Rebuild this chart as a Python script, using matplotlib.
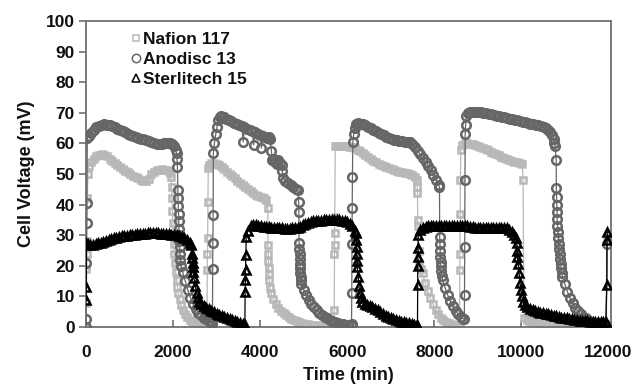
import matplotlib
matplotlib.use("Agg")
import matplotlib.pyplot as plt
from matplotlib.lines import Line2D

plt.rcParams['font.family'] = ['Liberation Sans', 'DejaVu Sans']
plt.rcParams['font.weight'] = 'bold'

# ---------------- data (time in min, cell voltage in mV) ----------------
series_labels = ["Nafion 117", "Anodisc 13", "Sterlitech 15"]
x_ticks = [0, 2000, 4000, 6000, 8000, 10000, 12000]
y_ticks = [0, 10, 20, 30, 40, 50, 60, 70, 80, 90, 100]

nafion_c1 = [(0, 0), (5, 8), (10, 19), (15, 24), (20, 28), (30, 42), (45, 50), (60, 52.5),
             (120, 54.0), (180, 55.0), (240, 55.8), (300, 56.2), (360, 56.4), (420, 56.3), (480, 55.8),
             (540, 55.0), (600, 54.2), (660, 53.5), (720, 52.8), (780, 52.2), (840, 51.6), (900, 51.0),
             (960, 50.5), (1020, 50.0), (1080, 49.5), (1140, 49.0), (1200, 48.6), (1260, 48.2),
             (1320, 47.8), (1380, 47.6), (1440, 48.5), (1500, 50.0), (1560, 50.8), (1620, 51.2),
             (1680, 51.4), (1740, 51.5), (1800, 51.4), (1860, 51.2), (1900, 51.0), (1930, 50.3),
             (1950, 49.0), (1965, 45.8), (1975, 42), (1985, 38), (1995, 34), (2005, 30), (2015, 27),
             (2025, 24), (2040, 21), (2060, 18), (2080, 15.5), (2100, 13), (2120, 11), (2150, 9),
             (2180, 7.2), (2220, 5.6), (2270, 4.2), (2320, 3.2), (2380, 2.3), (2440, 1.7), (2500, 1.2),
             (2560, 0.8), (2620, 0.5), (2680, 0.3), (2730, 0.1)]
nafion_c2 = [(2780, 0.1), (2785, 18.6), (2790, 24), (2795, 29), (2800, 41), (2810, 52), (2830, 53),
             (2880, 53.5), (2940, 53.5), (3000, 53.2), (3060, 52.8), (3120, 52.2), (3180, 51.5),
             (3240, 50.8), (3300, 50.0), (3360, 49.3), (3420, 48.6), (3480, 47.8), (3540, 47.1),
             (3600, 46.4), (3660, 45.7), (3720, 45.0), (3780, 44.4), (3840, 43.8), (3900, 43.3),
             (3960, 42.8), (4020, 42.4), (4080, 42.0), (4140, 41.6), (4175, 39.0),
             (4180, 26.8), (4185, 24), (4190, 21.5), (4195, 19.3), (4200, 17.3), (4210, 15.4),
             (4225, 12.7), (4250, 11), (4300, 9.2), (4360, 7.6), (4420, 6.3), (4480, 5.3), (4540, 4.5),
             (4600, 3.8), (4660, 3.2), (4720, 2.7), (4780, 2.3), (4840, 1.9), (4900, 1.6), (4960, 1.3),
             (5020, 1.1), (5100, 0.9), (5200, 0.7), (5300, 0.5), (5400, 0.4), (5500, 0.3), (5600, 0.3),
             (5690, 0.3)]
nafion_c3 = [(5700, 0.3), (5703, 5.6), (5706, 24), (5709, 26.8), (5712, 30.7), (5715, 36), (5725, 59),
             (5760, 59.3), (5820, 59.3), (5880, 59.2), (5940, 59.1), (6000, 59.0), (6060, 58.9),
             (6120, 58.7), (6180, 58.4), (6240, 58.0), (6300, 57.5), (6360, 56.9), (6420, 56.3),
             (6480, 55.6), (6540, 55.0), (6600, 54.4), (6660, 53.9), (6720, 53.4), (6780, 52.9),
             (6840, 52.5), (6900, 52.2), (6960, 51.9), (7020, 51.6), (7080, 51.3), (7140, 51.0),
             (7200, 50.8), (7260, 50.6), (7320, 50.4), (7380, 50.2), (7440, 50.0), (7500, 49.6),
             (7560, 49.0), (7600, 48.0), (7610, 45.8), (7615, 43.8),
             (7620, 35), (7625, 33), (7640, 25), (7660, 21), (7690, 19), (7730, 17.6), (7790, 14.5),
             (7850, 11.8), (7910, 9.4), (7970, 7.4), (8030, 5.6), (8090, 4.2), (8150, 3.1), (8210, 2.3),
             (8270, 1.7), (8330, 1.3), (8390, 1.0), (8450, 0.8), (8510, 0.6), (8570, 0.5)]
nafion_c4 = [(8580, 0.5), (8585, 18.6), (8590, 24), (8595, 37), (8600, 48), (8610, 58), (8640, 59.5),
             (8700, 60.0), (8760, 60.0), (8820, 59.9), (8880, 59.7), (8940, 59.5), (9000, 59.2),
             (9060, 58.9), (9120, 58.5), (9180, 58.1), (9240, 57.7), (9300, 57.3), (9360, 56.9),
             (9420, 56.5), (9480, 56.1), (9540, 55.7), (9600, 55.3), (9660, 55.0), (9720, 54.6),
             (9780, 54.3), (9840, 54.0), (9900, 53.8), (9960, 53.6), (10020, 53.4), (10040, 48.0),
             (10060, 3.0), (10120, 2.4), (10180, 2.0), (10240, 1.7), (10300, 1.5), (10360, 1.3),
             (10420, 1.1), (10480, 1.0), (10540, 0.9), (10600, 0.8), (10700, 0.6), (10800, 0.5),
             (10900, 0.4), (11000, 0.3), (11100, 0.3), (11200, 0.3), (11955, 0.5), (11960, 29)]

anodisc_c1 = [(0, 0), (5, 2.6), (10, 21), (15, 34), (20, 40.5), (30, 61.7),
              (60, 62.5), (120, 63.5), (180, 64.5), (240, 65.2), (300, 65.7), (360, 66.0), (420, 66.2),
              (480, 66.1), (540, 65.9), (600, 65.6), (660, 65.2), (720, 64.8), (780, 64.4), (840, 64.0),
              (900, 63.6), (960, 63.2), (1020, 62.8), (1080, 62.5), (1140, 62.2), (1200, 61.9),
              (1260, 61.6), (1320, 61.3), (1380, 61.0), (1440, 60.7), (1500, 60.4), (1560, 60.1),
              (1620, 59.9), (1680, 59.8), (1740, 59.8), (1800, 60.0), (1860, 60.2), (1920, 60.2),
              (1980, 59.8), (2030, 59.0), (2060, 57.8), (2080, 56.8), (2090, 55.0), (2100, 52.3),
              (2110, 44.8), (2115, 42), (2120, 39.5), (2125, 37), (2130, 34.5), (2135, 32), (2140, 30),
              (2145, 28), (2150, 26), (2160, 24), (2170, 22), (2180, 20), (2220, 18), (2280, 15),
              (2340, 12), (2400, 9.5), (2460, 7.5), (2520, 6.0), (2580, 4.6), (2640, 3.8), (2700, 3.0),
              (2760, 2.5), (2820, 2.0), (2880, 1.5)]
anodisc_c2 = [(2905, 1.0), (2910, 19), (2915, 27.5), (2920, 36.6), (2925, 57), (2950, 60), (2980, 63),
              (3010, 65.5), (3040, 67.5), (3070, 68.6),
              (3100, 68.8), (3160, 68.5), (3220, 68.0), (3280, 67.6), (3340, 67.2), (3400, 66.8),
              (3460, 66.4), (3520, 66.0), (3580, 65.6), (3610, 60.5), (3640, 65.2), (3700, 64.8),
              (3760, 64.4), (3820, 64.0), (3850, 59.5), (3880, 63.6), (3940, 63.2), (4000, 62.8),
              (4030, 58.5), (4060, 62.4), (4120, 62.0), (4150, 61.8), (4200, 62.0), (4230, 61.5),
              (4260, 57.5), (4275, 54.6), (4310, 55.0), (4340, 54.0), (4380, 53.2), (4420, 54.5),
              (4460, 53.5), (4495, 53.0), (4510, 51.0), (4525, 48.7), (4580, 47.8), (4640, 47.0),
              (4700, 46.3), (4760, 45.7), (4820, 45.2), (4870, 44.8), (4885, 40.8), (4890, 37.6),
              (4895, 27.4), (4900, 25.5), (4905, 23.8), (4910, 22.2), (4915, 20.6), (4920, 19.2),
              (4925, 17.8), (4930, 16.5), (4940, 15.2), (4950, 14.2), (5000, 12.2), (5060, 10.5),
              (5120, 8.9), (5180, 7.6), (5240, 6.4), (5300, 5.4), (5360, 4.6), (5420, 3.9), (5480, 3.3),
              (5540, 2.8), (5600, 2.3), (5660, 1.9), (5720, 1.6), (5780, 1.3), (5840, 1.1), (5900, 0.9),
              (5960, 0.7), (6020, 0.6), (6080, 0.5)]
anodisc_c3 = [(6100, 1.0), (6105, 11), (6110, 27), (6115, 39), (6120, 49), (6130, 60.5), (6150, 63),
              (6180, 65), (6210, 66.3), (6240, 66.6),
              (6300, 66.5), (6360, 66.2), (6420, 65.9), (6480, 65.4), (6540, 64.9), (6600, 64.4),
              (6660, 63.9), (6720, 63.4), (6780, 63.0), (6840, 62.6), (6900, 62.2), (6960, 61.8),
              (7020, 61.5), (7080, 61.2), (7140, 61.0), (7200, 60.8), (7260, 60.7), (7320, 60.6),
              (7380, 60.5), (7440, 60.3), (7500, 59.8), (7560, 58.8), (7620, 57.6), (7680, 56.4),
              (7740, 55.2), (7800, 54.0), (7860, 52.7), (7920, 51.3), (7980, 49.8), (8040, 48.2),
              (8100, 46.5), (8120, 45.8),
              (8125, 29.4), (8130, 27), (8135, 25), (8140, 23), (8145, 21.3), (8150, 19.8), (8160, 18.3),
              (8175, 16.8), (8190, 15.4), (8250, 12.8), (8310, 10.4), (8370, 8.4), (8430, 6.7),
              (8490, 5.3), (8550, 4.2), (8610, 3.3), (8660, 2.7)]
anodisc_c4 = [(8690, 2.5), (8695, 10.5), (8700, 26), (8705, 48), (8710, 63), (8720, 66), (8740, 69),
              (8770, 70),
              (8830, 70.2), (8890, 70.3), (8950, 70.3), (9010, 70.2), (9070, 70.1), (9130, 70.0),
              (9190, 69.9), (9250, 69.7), (9310, 69.5), (9370, 69.3), (9430, 69.1), (9490, 68.9),
              (9550, 68.7), (9610, 68.5), (9670, 68.3), (9730, 68.1), (9790, 67.9), (9850, 67.7),
              (9910, 67.5), (9970, 67.3), (10030, 67.1), (10090, 66.9), (10150, 66.7), (10210, 66.5),
              (10270, 66.3), (10330, 66.1), (10390, 65.9), (10450, 65.7), (10510, 65.4), (10570, 65.0),
              (10620, 64.4), (10670, 63.6), (10710, 62.7), (10740, 61.5), (10760, 60.0), (10780, 59.0),
              (10800, 54.6),
              (10805, 45.4), (10810, 42.5), (10815, 40), (10820, 37.5), (10825, 35.2), (10830, 33),
              (10840, 31), (10850, 29), (10860, 27.2), (10870, 25.5), (10880, 23.8), (10890, 22.2),
              (10900, 20.7), (10915, 19.2), (10930, 17.7), (10945, 16.3), (11000, 14.0), (11060, 11.5),
              (11120, 9.4), (11180, 7.7), (11240, 6.3), (11300, 5.1), (11360, 4.2), (11420, 3.4),
              (11480, 2.8), (11540, 2.2), (11600, 1.7), (11660, 1.3), (11720, 1.0), (11780, 0.8),
              (11840, 0.7), (11900, 0.6), (11950, 0.6), (11965, 27)]

sterlitech_c1 = [(0, 8.8), (5, 13), (10, 27.5),
                 (40, 27.0), (100, 26.8), (160, 26.9), (220, 27.1), (280, 27.3), (340, 27.6), (400, 27.9),
                 (460, 28.2), (520, 28.5), (580, 28.8), (640, 29.0), (700, 29.2), (760, 29.4), (820, 29.6),
                 (880, 29.8), (940, 29.9), (1000, 30.0), (1060, 30.1), (1120, 30.2), (1180, 30.3),
                 (1240, 30.4), (1300, 30.5), (1360, 30.5), (1420, 30.6), (1480, 30.6), (1540, 30.6),
                 (1600, 30.6), (1660, 30.6), (1720, 30.5), (1780, 30.5), (1840, 30.4), (1900, 30.3),
                 (1960, 30.2), (2020, 30.1), (2080, 30.0), (2140, 29.8), (2200, 29.5), (2260, 29.0),
                 (2320, 28.3), (2380, 27.5), (2420, 26.8), (2440, 24.0), (2445, 22.5), (2450, 21.0),
                 (2455, 19.5), (2460, 18.0),
                 (2480, 16.0), (2510, 13.5), (2540, 11.2), (2570, 9.4), (2600, 8.2), (2640, 7.5),
                 (2700, 6.9), (2760, 6.3), (2820, 5.8), (2880, 5.3), (2940, 4.8), (3000, 4.4), (3060, 4.0),
                 (3120, 3.6), (3180, 3.2), (3240, 2.9), (3300, 2.6), (3360, 2.3), (3420, 2.0), (3480, 1.7),
                 (3540, 1.4), (3600, 1.1), (3640, 0.6)]
sterlitech_c2 = [(3650, 0.5), (3655, 11.4), (3660, 15.4), (3665, 18.6), (3670, 23.5), (3680, 29.4),
                 (3720, 31.5),
                 (3780, 33.0), (3840, 33.3), (3900, 33.2), (3960, 33.0), (4020, 32.9), (4080, 32.8),
                 (4140, 32.7), (4200, 32.6), (4260, 32.5), (4320, 32.4), (4380, 32.3), (4440, 32.2),
                 (4500, 32.2), (4560, 32.1), (4620, 32.1), (4680, 32.1), (4740, 32.2), (4800, 32.3),
                 (4860, 32.5), (4920, 32.8), (4980, 33.2), (5040, 33.6), (5100, 34.0), (5160, 34.3),
                 (5220, 34.5), (5280, 34.6), (5340, 34.7), (5400, 34.8), (5460, 34.9), (5520, 35.0),
                 (5580, 35.0), (5640, 35.0), (5700, 35.0), (5760, 35.0), (5820, 34.9), (5880, 34.8),
                 (5940, 34.6), (6000, 34.3), (6060, 33.8), (6120, 33.0), (6170, 31.5), (6200, 30.7),
                 (6210, 28.5), (6215, 26.0), (6220, 24.0), (6225, 21.5), (6230, 19.6),
                 (6250, 16.5), (6270, 13.5), (6290, 11.0), (6310, 9.5), (6340, 8.3), (6400, 7.6),
                 (6460, 7.2), (6520, 6.9), (6580, 6.5), (6640, 6.0), (6700, 5.4), (6760, 4.8), (6820, 4.2),
                 (6880, 3.7), (6940, 3.2), (7000, 2.8), (7060, 2.5), (7120, 2.2), (7180, 1.9), (7240, 1.7),
                 (7300, 1.5), (7360, 1.3), (7420, 1.2), (7480, 1.0), (7540, 0.8), (7600, 0.6)]
sterlitech_c3 = [(7615, 0.5), (7618, 13.7), (7621, 20), (7624, 23), (7627, 25.8), (7632, 30),
                 (7680, 31.8),
                 (7740, 32.5), (7800, 32.8), (7860, 33.0), (7920, 33.0), (7980, 33.0), (8040, 33.0),
                 (8100, 33.0), (8160, 33.0), (8220, 33.0), (8280, 33.0), (8340, 33.0), (8400, 33.0),
                 (8460, 33.0), (8520, 33.0), (8580, 33.0), (8640, 33.0), (8700, 33.0), (8760, 32.9),
                 (8820, 32.8), (8880, 32.6), (8940, 32.5), (9000, 32.5), (9060, 32.5), (9120, 32.5),
                 (9180, 32.5), (9240, 32.5), (9300, 32.5), (9360, 32.4), (9420, 32.4), (9480, 32.4),
                 (9540, 32.4), (9600, 32.4), (9660, 32.2), (9720, 31.8), (9780, 31.2), (9840, 30.2),
                 (9880, 29.0), (9895, 27.4), (9900, 25.0), (9910, 23.0),
                 (9930, 20.5), (9950, 17.5), (9970, 14.5), (9990, 12.0), (10010, 10.0), (10040, 8.3),
                 (10080, 7.2), (10140, 6.4), (10200, 5.9), (10260, 5.5), (10320, 5.2), (10380, 4.9),
                 (10440, 4.7), (10500, 4.5), (10560, 4.3), (10620, 4.1), (10680, 3.9), (10740, 3.7),
                 (10800, 3.5), (10860, 3.3), (10920, 3.1), (10980, 2.9), (11040, 2.8), (11100, 2.6),
                 (11160, 2.5), (11220, 2.3), (11280, 2.2), (11340, 2.1), (11400, 2.0), (11460, 1.9),
                 (11520, 1.8), (11580, 1.7), (11640, 1.7), (11700, 1.6), (11760, 1.6), (11820, 1.6),
                 (11880, 1.6), (11940, 1.6)]
sterlitech_c4 = [(11965, 13.7), (11970, 28.4), (11975, 31)]

# ---------------- styles ----------------
nafion_col = "#b8b8b8"
anodisc_col = "#666666"
sterl_col = "#000000"
spine_col = "#707070"
text_col = "#111111"

fig = plt.figure(figsize=(6.35, 3.86), dpi=100)
ax = fig.add_axes([86 / 635, 1 - 327 / 386, 525 / 635, 306 / 386])


def unpack(*cycles):
    pts = [p for c in cycles for p in c]
    return [p[0] for p in pts], [p[1] for p in pts]


nt, nv = unpack(nafion_c1, nafion_c2, nafion_c3, nafion_c4)
at, av = unpack(anodisc_c1, anodisc_c2, anodisc_c3, anodisc_c4)
st, sv = unpack(sterlitech_c1, sterlitech_c2, sterlitech_c3, sterlitech_c4)

ax.plot(nt, nv, color=nafion_col, lw=0.9, marker='s', ms=4.8, mfc='none',
        mec=nafion_col, mew=1.8, zorder=2)
ax.plot(at, av, color=anodisc_col, lw=0.9, marker='o', ms=6.2, mfc='none',
        mec=anodisc_col, mew=1.8, zorder=3)
ax.plot(st, sv, color=sterl_col, lw=0.9, marker='^', ms=6.4, mfc='none',
        mec=sterl_col, mew=1.8, zorder=4)

ax.set_xlim(0, 12060)
ax.set_ylim(0, 100)
ax.set_xticks(x_ticks)
ax.set_yticks(y_ticks)
ax.set_xticklabels([str(v) for v in x_ticks], fontsize=12.5, fontweight='bold', color=text_col)
ax.set_yticklabels([str(v) for v in y_ticks], fontsize=12.5, fontweight='bold', color=text_col)
ax.tick_params(axis='x', direction='in', length=5, width=1.2, color=spine_col, pad=13)
ax.tick_params(axis='y', direction='out', length=5, width=1.2, color=spine_col, pad=3)
for s in ax.spines.values():
    s.set_color(spine_col)
    s.set_linewidth(1.3)

ax.set_xlabel("Time (min)", fontsize=13, fontweight='bold', color=text_col, labelpad=5)
ax.set_ylabel("Cell Voltage (mV)", fontsize=13, fontweight='bold', color=text_col, labelpad=8)

handles = [
    Line2D([], [], ls='none', marker='s', ms=4.5, mfc='white', mec=nafion_col, mew=1.1),
    Line2D([], [], ls='none', marker='o', ms=6.0, mfc='white', mec=anodisc_col, mew=1.1),
    Line2D([], [], ls='none', marker='^', ms=6.0, mfc='white', mec=sterl_col, mew=1.1),
]
leg = ax.legend(handles, series_labels, loc='upper left', bbox_to_anchor=(0.085, 0.965),
                frameon=False, fontsize=12.5, handlelength=0.6, handletextpad=0.1,
                labelspacing=0.28, borderaxespad=0, borderpad=0)
for txt in leg.get_texts():
    txt.set_fontweight('bold')
    txt.set_color(text_col)

fig.savefig("out.png", dpi=100)
